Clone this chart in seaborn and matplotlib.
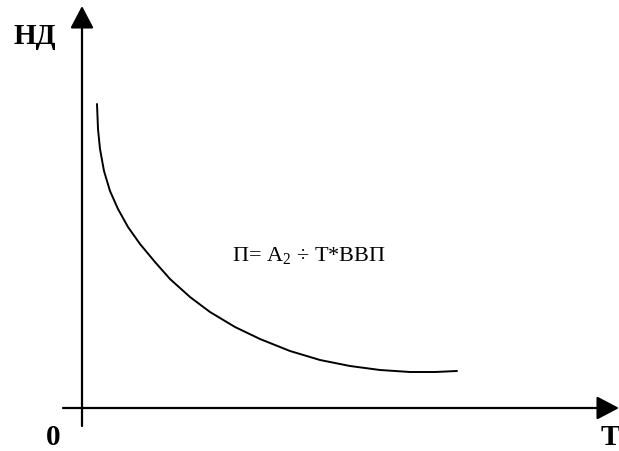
import numpy as np
import pandas as pd
import seaborn as sns
import matplotlib.pyplot as plt

sns.set_theme(style="white")
plt.rcParams['font.family'] = ['Liberation Serif', 'DejaVu Serif']
plt.rcParams['text.color'] = 'black'
plt.rcParams['mathtext.fontset'] = 'custom'
plt.rcParams['mathtext.rm'] = 'Liberation Serif'
plt.rcParams['mathtext.it'] = 'Liberation Serif:italic'

# curve (T, НД) in pixel-like units from the origin
t_vals = [15, 16, 18, 22, 28, 36, 46, 58, 73, 88, 108, 128, 153, 178, 208, 238,
          268, 298, 328, 353, 375]
nd_vals = [304, 279, 259, 237, 217, 199, 181, 164, 146, 129, 111, 96, 81, 69, 57, 48,
           42, 38, 36, 36, 37]
y_label = 'НД'
x_label = 'Т'
origin_label = '0'
formula = 'П= А$_{2}$ ÷ Т*ВВП'

df = pd.DataFrame({'T': t_vals, 'ND': nd_vals})

fig = plt.figure(figsize=(6.19, 4.52), dpi=100)
ax = fig.add_axes([0, 0, 1, 1])
ax.set_xlim(-82, 537)
ax.set_ylim(-43, 409)
ax.axis('off')

sns.lineplot(data=df, x='T', y='ND', sort=False, color='black', lw=1.4, ax=ax)

arrow = dict(arrowstyle='-|>,head_length=1.37,head_width=0.72', mutation_scale=10,
             color='black', lw=1.6, shrinkA=0, shrinkB=0)
ax.annotate('', xy=(537, 0), xytext=(-19, 0), arrowprops=arrow)
ax.annotate('', xy=(0, 402), xytext=(0, -18), arrowprops=arrow)

ax.text(-47, 373, y_label, fontsize=21, fontweight='bold', ha='center', va='center')
ax.text(-29, -29, origin_label, fontsize=21, fontweight='bold', ha='center', va='center')
ax.text(528, -29, x_label, fontsize=21, fontweight='bold', ha='center', va='center')
ax.text(150, 154, formula, fontsize=16, ha='left', va='center')

plt.savefig('out.png', dpi=100)
